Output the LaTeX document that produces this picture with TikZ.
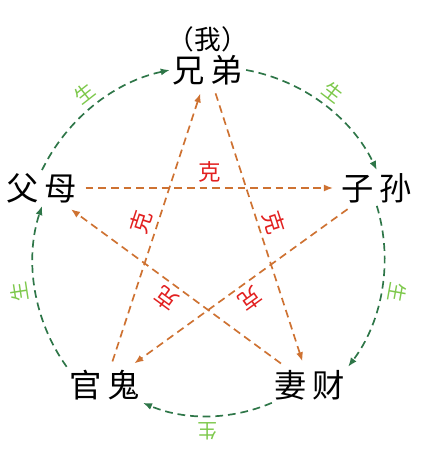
\documentclass[tikz,border=0pt]{standalone}
\usepackage{fontspec}
\newfontfamily\cjk{Noto Sans CJK SC}
\usepackage{tikz}
\usetikzlibrary{arrows.meta,positioning}

\definecolor{shenggreen}{RGB}{46,118,72}
\definecolor{shenglabel}{RGB}{125,200,75}
\definecolor{keorange}{RGB}{206,114,50}
\definecolor{kered}{RGB}{226,32,32}

\begin{document}
\begin{tikzpicture}[
  liuqin/.style={font=\cjk\fontsize{23}{23}\selectfont, inner sep=2pt},
  sheng/.style={draw=shenggreen, line width=1.2pt, dash pattern=on 5.5pt off 3.5pt, -{Latex[length=6.5pt,width=5pt]}, looseness=0.9},
  ke/.style={draw=keorange, line width=1.2pt, dash pattern=on 5.5pt off 3.5pt, -{Latex[length=6.5pt,width=5pt]}, shorten <=4pt, shorten >=4pt},
  shenglbl/.style={font=\cjk\fontsize{14}{14}\selectfont, text=shenglabel, midway, sloped, allow upside down, above=1pt},
  kelbl/.style={font=\cjk\fontsize{16}{16}\selectfont, text=kered, midway, sloped, allow upside down, above=0pt}
]
\useasboundingbox (-5.2,-5.3) rectangle (5.8,6.1);

% the five relatives
\node[liuqin] (xiongdi) at (0,4.35) {兄\,弟};
\node[liuqin, font=\cjk\fontsize{19}{19}\selectfont, above=-2pt of xiongdi] (wo) {（我）};
\node[liuqin] (zisun) at (4.22,1.4) {子\,孙};
\node[liuqin] (fumu) at (-4.15,1.4) {父\,母};
\node[liuqin] (guangui) at (-2.58,-3.52) {官\,鬼};
\node[liuqin] (qicai) at (2.55,-3.52) {妻\,财};

% generating cycle (outer circle)
\draw[sheng] (fumu.north) to[bend left=26] node[shenglbl] (s1) {生} (xiongdi.west);
\draw[sheng] (xiongdi.east) to[bend left=27] node[shenglbl] (s2) {生} (zisun.north);
\draw[sheng] (zisun.south) to[bend left=27] node[shenglbl] (s3) {生} (qicai.north east);
\draw[sheng] (qicai.south west) to[bend left=23] node[shenglbl] (s4) {生} (guangui.south east);
\draw[sheng] (guangui.north west) to[bend left=27] node[shenglbl] (s5) {生} (fumu.south);

% controlling cycle (star)
\draw[ke] (fumu) -- node[kelbl] (k1) {克} (zisun);
\draw[ke] (xiongdi) -- node[kelbl] (k2) {克} (qicai);
\draw[ke] (qicai) -- node[kelbl] (k3) {克} (fumu);
\draw[ke] (guangui) -- node[kelbl] (k4) {克} (xiongdi);
\draw[ke] (zisun) -- node[kelbl] (k5) {克} (guangui);
\end{tikzpicture}
\end{document}
